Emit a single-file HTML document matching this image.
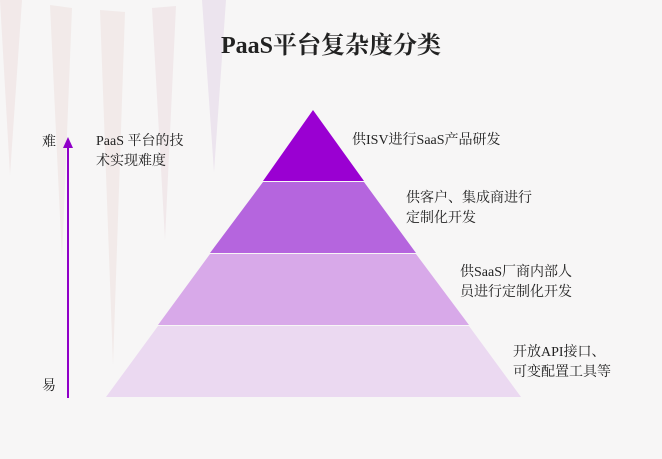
<!DOCTYPE html>
<html><head><meta charset="utf-8"><style>
body{margin:0;width:662px;height:459px;overflow:hidden;background:#f7f6f6;position:relative;font-family:"Liberation Serif","Noto Serif CJK SC",serif;color:#222}
.t{position:absolute;font-size:14px;line-height:22px;white-space:nowrap}
</style></head><body>
<svg width="662" height="459" style="position:absolute;left:0;top:0">
<polygon points="0,0 22,0 10,175" fill="#efe4e4" opacity=".7"/>
<polygon points="50,5 72,8 62,260" fill="#f0e6e4" opacity=".7"/>
<polygon points="100,10 125,12 113,365" fill="#efe6e4" opacity=".7"/>
<polygon points="152,8 176,6 165,240" fill="#eee2e6" opacity=".7"/>
<polygon points="202,0 226,0 214,172" fill="#e8e0ec" opacity=".8"/>
<polygon points="313,110 364,181 263,181" fill="#9a00d2"/>
<polygon points="263,182 364,182 416,253 210,253" fill="#b565de"/>
<polygon points="210,254 416,254 469,325 158,325" fill="#d8a9e9"/>
<polygon points="158,326 469,326 521,397 106,397" fill="#ebd9f1"/>
<line x1="68" y1="146" x2="68" y2="398" stroke="#9000c8" stroke-width="2"/>
<polygon points="68,137 63,148 73,148" fill="#9000c8"/>
</svg>
<div class="t" style="left:0;width:662px;text-align:center;top:30px;font-size:24px;font-weight:bold;line-height:32px">PaaS平台复杂度分类</div>
<div class="t" style="left:42px;top:132px">难</div>
<div class="t" style="left:42px;top:376px">易</div>
<div class="t" style="left:96px;top:132px;line-height:20px">PaaS 平台的技<br>术实现难度</div>
<div class="t" style="left:352px;top:130px">供ISV进行SaaS产品研发</div>
<div class="t" style="left:406px;top:189px;line-height:20px">供客户、集成商进行<br>定制化开发</div>
<div class="t" style="left:460px;top:263px;line-height:20px">供SaaS厂商内部人<br>员进行定制化开发</div>
<div class="t" style="left:513px;top:343px;line-height:20px">开放API接口、<br>可变配置工具等</div>
</body></html>
